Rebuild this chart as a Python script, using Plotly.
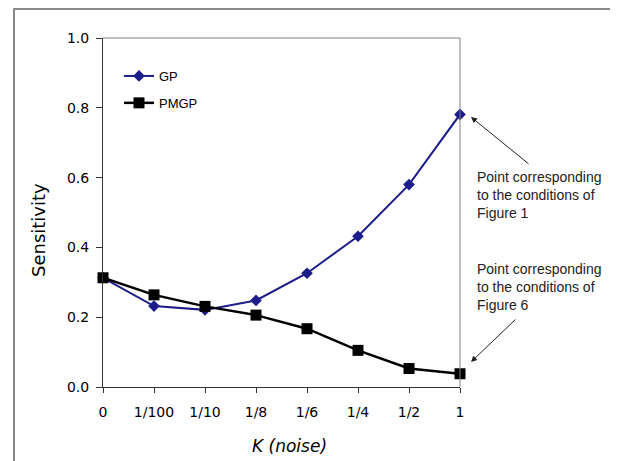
import plotly.graph_objects as go

categories = ["0", "1/100", "1/10", "1/8", "1/6", "1/4", "1/2", "1"]
gp = [0.313, 0.232, 0.221, 0.248, 0.326, 0.432, 0.580, 0.781]
pmgp = [0.313, 0.264, 0.231, 0.206, 0.167, 0.105, 0.053, 0.038]
y_ticks = [0.0, 0.2, 0.4, 0.6, 0.8, 1.0]

xs = list(range(len(categories)))

# page has an 8px body margin -> work in reference page coords, shift by 8
OFF = 8
L, R, T, B = 103 - OFF, 460 - OFF, 38 - OFF, 387 - OFF
W, H = 618 - OFF, 461 - OFF

def px(x):
    return (x - OFF - L) / (R - L)

def py(y):
    return (B - (y - OFF)) / (B - T)

fig = go.Figure()
fig.add_trace(go.Scatter(
    x=xs, y=gp, name="GP", mode="lines+markers", legendgroup="a",
    line=dict(color="#1c1c8a", width=2),
    marker=dict(symbol="diamond", size=9, color="#1c1c8a"),
    cliponaxis=False,
))
fig.add_trace(go.Scatter(
    x=xs, y=pmgp, name="PMGP", mode="lines+markers", legendgroup="b",
    line=dict(color="#000000", width=2.5),
    marker=dict(symbol="square", size=11, color="#000000"),
    cliponaxis=False,
))

fig.update_layout(
    width=W, height=H,
    margin=dict(l=L, r=W - R, t=T, b=H - B),
    paper_bgcolor="white", plot_bgcolor="white",
    showlegend=True,
    legend=dict(x=px(119), y=py(61), xanchor="left", yanchor="top",
                bgcolor="rgba(0,0,0,0)", font=dict(family="Liberation Sans", size=13, color="#000"),
                tracegroupgap=7),
    font=dict(family="DejaVu Sans", size=14, color="#000"),
)
fig.update_xaxes(
    range=[0, 7], tickmode="array", tickvals=xs, ticktext=categories,
    showgrid=False, zeroline=False, showline=True, linecolor="#333", linewidth=1,
    ticks="outside", ticklen=5, tickcolor="#333", ticklabelstandoff=7,
    tickfont=dict(family="DejaVu Sans", size=14),
)
fig.update_yaxes(
    range=[0, 1], tickmode="array", tickvals=y_ticks,
    ticktext=[f"{v:.1f}" for v in y_ticks],
    showgrid=False, zeroline=False, showline=True, linecolor="#333", linewidth=1,
    ticks="outside", ticklen=6, tickcolor="#333", ticklabelstandoff=4,
    tickfont=dict(family="DejaVu Sans", size=14),
)

# axis titles
fig.add_annotation(xref="paper", yref="paper", x=px(289), y=py(446), showarrow=False,
                   xanchor="center", yanchor="middle",
                   text="<i>K (noise)</i>", font=dict(family="DejaVu Sans", size=17, color="#000"))
fig.add_annotation(xref="paper", yref="paper", x=px(38), y=py(230), showarrow=False, textangle=-90,
                   xanchor="center", yanchor="middle",
                   text="Sensitivity", font=dict(family="DejaVu Sans", size=18, color="#000"))

# plot area border (top/right, gray)
fig.add_shape(type="line", xref="paper", yref="paper", x0=0, x1=1, y0=1, y1=1,
              line=dict(color="#808080", width=1))
fig.add_shape(type="line", xref="paper", yref="paper", x0=1, x1=1, y0=0, y1=1,
              line=dict(color="#808080", width=1))
# outer chart frame
fig.add_shape(type="rect", xref="paper", yref="paper",
              x0=px(14), x1=px(616.5), y0=py(490), y1=py(9),
              line=dict(color="#8a8a8a", width=2))

note_font = dict(family="Liberation Sans", size=14, color="#222")
fig.add_annotation(xref="paper", yref="paper", x=px(475), y=py(167),
                   xanchor="left", yanchor="top", align="left", showarrow=False,
                   text="Point corresponding<br>to the conditions of<br>Figure 1", font=note_font)
fig.add_annotation(xref="paper", yref="paper", x=px(475), y=py(259),
                   xanchor="left", yanchor="top", align="left", showarrow=False,
                   text="Point corresponding<br>to the conditions of<br>Figure 6", font=note_font)
# arrows
fig.add_annotation(xref="paper", yref="paper", x=px(471), y=py(117),
                   axref="pixel", ayref="pixel", ax=59, ay=48, text="",
                   showarrow=True, arrowhead=2, arrowsize=1.2, arrowwidth=1, arrowcolor="#222")
fig.add_annotation(xref="paper", yref="paper", x=px(471), y=py(362),
                   axref="pixel", ayref="pixel", ax=46, ay=-44, text="",
                   showarrow=True, arrowhead=2, arrowsize=1.2, arrowwidth=1, arrowcolor="#222")

fig.write_html("out.html")
